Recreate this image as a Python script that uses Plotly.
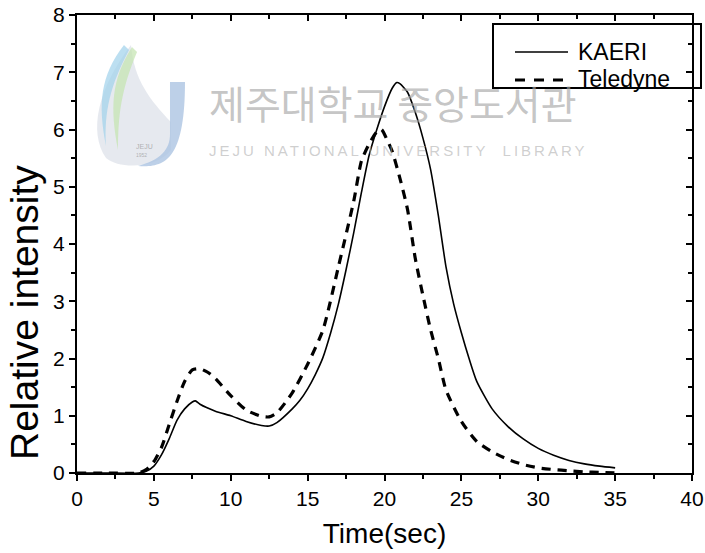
import plotly.graph_objects as go

# Elution profiles (relative intensity vs. time)
kaeri_t = [0, 2, 4, 4.5, 5, 5.5, 6, 6.5, 7, 7.5, 7.7, 8, 9, 10, 11, 12, 12.5, 13, 14, 14.5,
           15, 15.5, 16, 16.5, 17, 17.5, 18, 18.5, 19, 19.5, 20, 20.5, 20.8, 21, 21.5, 22,
           22.5, 23, 23.5, 24, 24.5, 25, 25.5, 26, 27, 28, 29, 30, 31, 32, 33, 34, 35]
kaeri_i = [0, 0, 0, 0.03, 0.12, 0.32, 0.6, 0.92, 1.12, 1.24, 1.26, 1.2, 1.08, 1.0, 0.9, 0.83,
           0.82, 0.88, 1.12, 1.27, 1.47, 1.72, 2.02, 2.45, 2.95, 3.55, 4.2, 4.9, 5.55, 6.0,
           6.4, 6.72, 6.82, 6.8, 6.65, 6.3, 5.85, 5.3, 4.5, 3.6, 2.95, 2.45, 2.0, 1.6, 1.12,
           0.82, 0.6, 0.43, 0.31, 0.22, 0.16, 0.12, 0.09]

teledyne_t = [0, 2, 4, 4.5, 5, 5.5, 6, 6.5, 7, 7.5, 8, 8.5, 9, 10, 11, 12, 12.5, 13, 14, 15,
              16, 17, 18, 18.5, 19, 19.5, 19.8, 20.2, 20.5, 21, 21.5, 22, 22.5, 23, 23.5, 24,
              25, 26, 27, 28, 29, 30, 31, 32, 33, 34, 35]
teledyne_i = [0, 0, 0, 0.06, 0.2, 0.45, 0.85, 1.25, 1.6, 1.8, 1.82, 1.76, 1.65, 1.35, 1.1,
              0.99, 0.98, 1.05, 1.4, 1.9, 2.5, 3.6, 4.75, 5.45, 5.75, 5.96, 6.0, 5.8, 5.62,
              5.15, 4.6, 3.75, 3.1, 2.5, 2.0, 1.45, 0.9, 0.55, 0.37, 0.24, 0.15, 0.09, 0.06,
              0.04, 0.02, 0.01, 0.0]

series_names = ["KAERI", "Teledyne"]
x_ticks = [0, 5, 10, 15, 20, 25, 30, 35, 40]
y_ticks = [0, 1, 2, 3, 4, 5, 6, 7, 8]

W, H = 705, 553
M = dict(l=77, r=13, t=15, b=80)
PW, PH = W - M["l"] - M["r"], H - M["t"] - M["b"]
FONT = "Liberation Sans, Arial, sans-serif"


def px(x, y):
    """Page pixel -> paper coordinates."""
    return (x - M["l"]) / PW, 1 - (y - M["t"]) / PH


def svg_path(cmds):
    """Build an SVG path in paper units from (command, [(x, y), ...]) pairs in pixels."""
    out = []
    for cmd, pts in cmds:
        coords = " ".join("{:.4f},{:.4f}".format(*px(x, y)) for x, y in pts)
        out.append(cmd + coords)
    return " ".join(out) + " Z"


fig = go.Figure()
fig.add_trace(go.Scatter(x=kaeri_t, y=kaeri_i, name=series_names[0], mode="lines",
                         showlegend=False,
                         line=dict(color="black", width=1.6, shape="spline", smoothing=0.6)))
fig.add_trace(go.Scatter(x=teledyne_t, y=teledyne_i, name=series_names[1], mode="lines",
                         showlegend=False,
                         line=dict(color="black", width=3.2, dash="9px,7px",
                                   shape="spline", smoothing=0.6)))
# carrier trace for the mirrored top/right axes
fig.add_trace(go.Scatter(x=[None], y=[None], xaxis="x2", yaxis="y2",
                         showlegend=False, hoverinfo="skip"))

tick_font = dict(family=FONT, size=21, color="black")
common = dict(showgrid=False, zeroline=False, showline=True, linecolor="black",
              linewidth=2, ticklen=6, tickwidth=2, tickcolor="black", automargin=False)

fig.update_layout(
    template="none",
    width=W, height=H, margin=M,
    paper_bgcolor="white", plot_bgcolor="white",
    font=dict(family=FONT, color="black"),
    xaxis=dict(range=[0, 40], tickvals=x_ticks, ticks="outside", tickfont=tick_font,
               minor=dict(ticks="outside", dtick=2.5, ticklen=4, tickwidth=2, tickcolor="black"),
               title=dict(text="Time(sec)", font=dict(size=28), standoff=14), **common),
    yaxis=dict(range=[0, 8], tickvals=y_ticks, ticks="outside", tickfont=tick_font,
               minor=dict(ticks="outside", dtick=0.5, ticklen=4, tickwidth=2, tickcolor="black"),
               **common),
    xaxis2=dict(range=[0, 40], overlaying="x", side="top", anchor="y2", tickvals=x_ticks,
                ticks="inside", showticklabels=False,
                minor=dict(ticks="inside", dtick=2.5, ticklen=4, tickwidth=2, tickcolor="black"),
                **common),
    yaxis2=dict(range=[0, 8], overlaying="y", side="right", anchor="x2", tickvals=y_ticks,
                ticks="inside", showticklabels=False,
                minor=dict(ticks="inside", dtick=0.5, ticklen=4, tickwidth=2, tickcolor="black"),
                **common),
    showlegend=False,
)

shapes = []

# Library watermark logo
logo = [
    ("rgba(222,226,234,0.75)",
     [("M", [(131, 45)]), ("C", [(98, 88), (88, 132), (106, 158)]),
      ("C", [(120, 170), (158, 168), (171, 150)]), ("L", [(171, 122)]),
      ("C", [(150, 100), (134, 80), (131, 45)])]),
    ("rgba(160,210,235,0.7)",
     [("M", [(124, 45)]), ("C", [(100, 76), (98, 104), (106, 146)]),
      ("C", [(104, 112), (110, 86), (129, 50)])]),
    ("rgba(195,228,175,0.7)",
     [("M", [(132, 47)]), ("C", [(111, 80), (110, 108), (118, 150)]),
      ("C", [(118, 116), (121, 90), (137, 52)])]),
    ("rgba(172,196,226,0.8)",
     [("M", [(170, 82)]), ("L", [(185, 82), (185, 138)]),
      ("C", [(185, 160), (165, 168), (138, 166)]),
      ("C", [(160, 160), (170, 150), (170, 134)])]),
]
for color, cmds in logo:
    shapes.append(dict(type="path", path=svg_path(cmds), xref="paper", yref="paper",
                       fillcolor=color, line=dict(width=0), layer="below"))

# Legend: frame, line samples
lx0, ly0 = px(493, 24)
lx1, ly1 = px(701, 88)
shapes.append(dict(type="rect", xref="paper", yref="paper", x0=lx0, y0=ly1, x1=lx1, y1=ly0,
                   fillcolor="rgba(0,0,0,0)", line=dict(color="black", width=2), layer="above"))
for (ys, width, dash) in [(52, 1.6, "solid"), (80, 3.2, "10px,9px")]:
    a0, b0 = px(515, ys)
    a1, _ = px(568, ys)
    shapes.append(dict(type="line", xref="paper", yref="paper", x0=a0, y0=b0, x1=a1, y1=b0,
                       line=dict(color="black", width=width, dash=dash), layer="above"))
fig.update_layout(shapes=shapes)

annotations = []
for name, ys in zip(series_names, [52, 79]):
    u, v = px(576, ys)
    annotations.append(dict(x=u, y=v, xref="paper", yref="paper", text=name, showarrow=False,
                            xanchor="left", yanchor="middle",
                            font=dict(size=23, color="black", family=FONT)))

# Y axis title, placed lower than the axis centre
u, v = px(24, 313)
annotations.append(dict(x=u, y=v, xref="paper", yref="paper", text="Relative intensity",
                        textangle=-90, showarrow=False, xanchor="center", yanchor="middle",
                        font=dict(size=39, color="black", family=FONT)))

# Watermark text
u, v = px(207, 72)
annotations.append(dict(x=u, y=v, xref="paper", yref="paper", text="제주대학교 중앙도서관",
                        showarrow=False, xanchor="left",
                        font=dict(size=39, color="rgba(165,165,165,0.65)",
                                  family="Noto Sans CJK KR")))
u, v = px(398, 140)
annotations.append(dict(x=u, y=v, xref="paper", yref="paper",
                        text='<span style="letter-spacing:3px">'
                             'JEJU NATIONAL UNIVERSITY  LIBRARY</span>',
                        showarrow=False,
                        font=dict(size=15, color="rgba(175,175,175,0.6)", family=FONT)))
for txt, yc, sz in [("JEJU", 141, 7), ("1952", 150, 5)]:
    u, v = px(134, yc)
    annotations.append(dict(x=u, y=v, xref="paper", yref="paper", text=txt, showarrow=False,
                            font=dict(size=sz, color="rgba(150,150,150,0.7)", family=FONT)))
fig.update_layout(annotations=annotations)

fig.write_html("out.html")
